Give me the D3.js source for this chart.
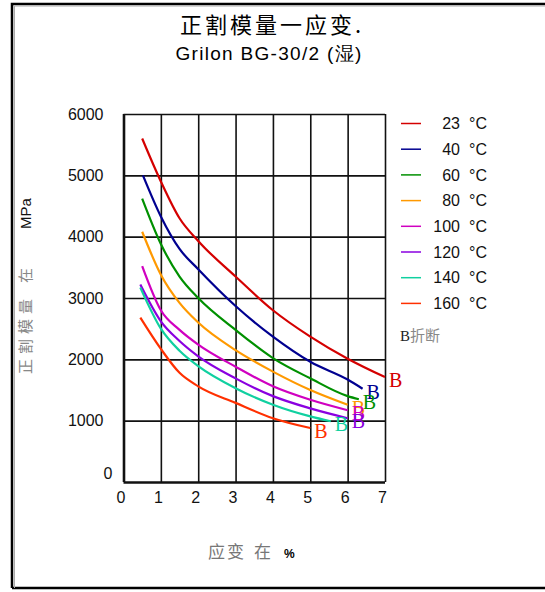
<!DOCTYPE html>
<html>
<head>
<meta charset="utf-8">
<script src="https://cdn.jsdelivr.net/npm/d3@7"></script>
<style>
  body { margin: 0; background: #fff; }
  text { font-family: "Liberation Sans", Arial, sans-serif; }
</style>
</head>
<body>
<div class="stage"></div>
<script>
// chart stage
var width = 545;
var height = 592;

// DATA: strain (%) and secant modulus (MPa) per temperature
var temps = ['23', '40', '60', '80', '100', '120', '140', '160'];
var colors = ['#d40000', '#000090', '#009000', '#ff9900', '#d000c0', '#8a00e0', '#10d0a0', '#ff3000'];

var strain23 = [0.5, 1, 1.5, 2, 3, 4, 5, 6, 7];
var mod23 = [5600, 4900, 4300, 3930, 3350, 2800, 2370, 2010, 1710];
var strain40 = [0.52, 1, 1.5, 2, 3, 4, 5, 6, 6.4];
var mod40 = [5000, 4330, 3800, 3470, 2870, 2370, 1960, 1670, 1520];
var strain60 = [0.5, 1, 1.5, 2, 3, 4, 5, 6, 6.3];
var mod60 = [4620, 3880, 3350, 3000, 2480, 2020, 1690, 1400, 1350];
var strain80 = [0.5, 1, 1.5, 2, 3, 4, 5, 6];
var mod80 = [4080, 3380, 2920, 2600, 2150, 1800, 1500, 1260];
var strain100 = [0.5, 1, 1.5, 2, 3, 4, 5, 6];
var mod100 = [3520, 2800, 2480, 2240, 1880, 1560, 1340, 1170];
var strain120 = [0.45, 1, 1.5, 2, 3, 4, 5, 6];
var mod120 = [3220, 2620, 2300, 2050, 1690, 1400, 1200, 1040];
var strain140 = [0.45, 1, 1.5, 2, 3, 4, 5, 5.55];
var mod140 = [3170, 2500, 2140, 1890, 1530, 1260, 1070, 990];
var strain160 = [0.45, 1, 1.5, 2, 3, 4, 5];
var mod160 = [2680, 2170, 1780, 1560, 1290, 1040, 880];

var xTicks = [0, 1, 2, 3, 4, 5, 6, 7];
var yTicks = [0, 1000, 2000, 3000, 4000, 5000, 6000];

var strains = [strain23, strain40, strain60, strain80, strain100, strain120, strain140, strain160];
var mods = [mod23, mod40, mod60, mod80, mod100, mod120, mod140, mod160];
var series = temps.map(function(t, i) {
  return { temp: t, color: colors[i], pts: strains[i].map(function(s, j) { return [s, mods[i][j]]; }) };
});

// CONTAINER
var svg = d3.select('.stage')
  .append('svg')
  .attr('width', width)
  .attr('height', height);

// outer frame (left, top, bottom)
svg.append('path')
  .attr('d', 'M12,588 L12,4 L545,4 M12,588 L545,588')
  .attr('fill', 'none')
  .attr('stroke', '#000')
  .attr('stroke-width', 2.5);
svg.append('path')
  .attr('d', 'M14.5,588 L14.5,6 L545,6')
  .attr('fill', 'none')
  .attr('stroke', '#aaa')
  .attr('stroke-width', 1);

// titles
svg.append('text')
  .attr('x', 272).attr('y', 33)
  .attr('text-anchor', 'middle')
  .style('font-family', '"Noto Sans CJK SC"')
  .style('font-size', '22px')
  .style('letter-spacing', '3px')
  .text('正割模量一应变.');
svg.append('text')
  .attr('x', 269).attr('y', 60)
  .attr('text-anchor', 'middle')
  .style('font-size', '19px')
  .style('letter-spacing', '1.3px')
  .text('Grilon BG-30/2 (湿)');

// scales
var x = d3.scaleLinear().domain([0, 7]).range([123.5, 385]);
var y = d3.scaleLinear().domain([0, 6000]).range([482, 114]);

// GRID + AXES
var gx = svg.append('g')
  .attr('transform', 'translate(0,' + y(0) + ')')
  .call(d3.axisBottom(x).tickValues(xTicks).tickSize(-(y(0) - y(6000))).tickPadding(10).tickFormat(d3.format('d')));
var gy = svg.append('g')
  .attr('transform', 'translate(' + x(0) + ',0)')
  .call(d3.axisLeft(y).tickValues(yTicks).tickSize(-(x(7) - x(0))).tickPadding(20).tickFormat(d3.format('d')));

[gx, gy].forEach(function(g) {
  g.select('.domain').remove();
  g.selectAll('line').attr('stroke', '#111').attr('stroke-width', 1.6);
  g.selectAll('text').attr('fill', '#111').style('font-size', '16px')
    .style('font-family', '"Liberation Sans", Arial, sans-serif');
});
gx.selectAll('text').attr('dx', -3);
gy.selectAll('.tick').filter(function(d) { return d === 0; }).select('text').attr('dy', '-0.2em').attr('dx', 9);
gy.selectAll('.tick').filter(function(d) { return d === 0; }).select('line').attr('stroke-width', 2.6);
gx.selectAll('.tick').filter(function(d) { return d === 0; }).select('line').attr('stroke-width', 2.6);

// axis titles (rotated, reading bottom to top)
svg.append('text')
  .attr('transform', 'translate(31,374) rotate(-90)')
  .attr('fill', '#888')
  .style('font-family', '"Noto Sans CJK SC"')
  .style('font-size', '15px')
  .style('letter-spacing', '5px')
  .text('正割模量');
svg.append('text')
  .attr('transform', 'translate(31,283) rotate(-90)')
  .attr('fill', '#888')
  .style('font-family', '"Noto Sans CJK SC"')
  .style('font-size', '15px')
  .text('在');
svg.append('text')
  .attr('transform', 'translate(31,229) rotate(-90)')
  .attr('fill', '#111')
  .style('font-size', '15px')
  .text('MPa');

var xlab = svg.append('text')
  .attr('x', 208).attr('y', 558)
  .style('font-size', '17px');
xlab.append('tspan').attr('fill', '#777').style('font-family', '"Noto Sans CJK SC"').style('letter-spacing', '2px').text('应变');
xlab.append('tspan').attr('dx', 8).attr('fill', '#777').style('font-family', '"Noto Sans CJK SC"').text('在');
xlab.append('tspan').attr('dx', 13).attr('fill', '#000').style('font-weight', 'bold').style('font-size', '12px').text('%');

// CURVES
var line = d3.line()
  .x(function(d) { return x(d[0]); })
  .y(function(d) { return y(d[1]); })
  .curve(d3.curveMonotoneX);

svg.selectAll('path.curve')
  .data(series)
  .enter()
  .append('path')
  .attr('class', 'curve')
  .attr('d', function(d) { return line(d.pts); })
  .attr('fill', 'none')
  .attr('stroke', function(d) { return d.color; })
  .attr('stroke-width', 2.2);

// break markers
svg.selectAll('text.brk')
  .data(series)
  .enter()
  .append('text')
  .attr('class', 'brk')
  .attr('x', function(d) { return x(d.pts[d.pts.length - 1][0]) + 4; })
  .attr('y', function(d) { return y(d.pts[d.pts.length - 1][1]) + 10; })
  .attr('fill', function(d) { return d.color; })
  .style('font-family', '"Liberation Serif", serif')
  .style('font-size', '20px')
  .text('B');

// LEGEND
var leg = svg.selectAll('g.leg')
  .data(series)
  .enter()
  .append('g')
  .attr('class', 'leg')
  .attr('transform', function(d, i) { return 'translate(0,' + (123.5 + i * 25.7) + ')'; });
leg.append('line')
  .attr('x1', 401).attr('x2', 421)
  .attr('stroke', function(d) { return d.color; })
  .attr('stroke-width', 1.5);
leg.append('text')
  .attr('x', 460).attr('dy', '0.36em')
  .attr('text-anchor', 'end')
  .style('font-size', '16px')
  .attr('fill', '#111')
  .text(function(d) { return d.temp; });
leg.append('text')
  .attr('x', 469).attr('dy', '0.36em')
  .style('font-size', '16px')
  .attr('fill', '#111')
  .text('°C');

var note = svg.append('text')
  .attr('x', 400).attr('y', 341)
  .style('font-size', '15px');
note.append('tspan').attr('fill', '#222').style('font-family', '"Liberation Serif", serif').text('B');
note.append('tspan').attr('fill', '#888').style('font-family', '"Noto Sans CJK SC"').text('折断');
</script>
</body>
</html>
